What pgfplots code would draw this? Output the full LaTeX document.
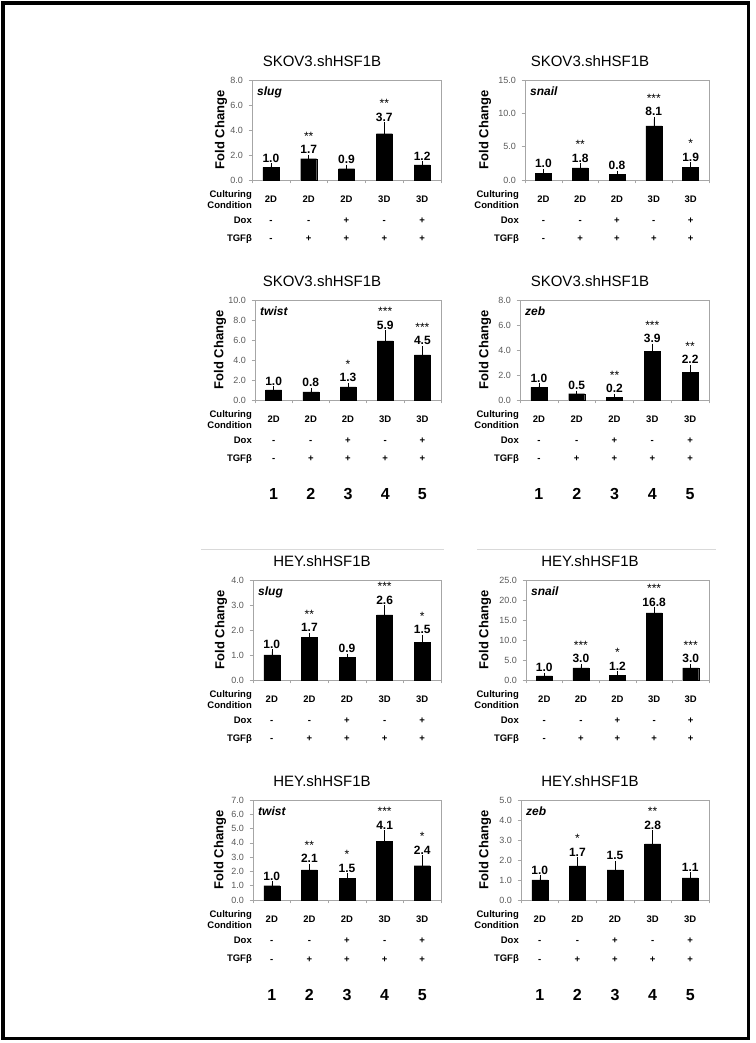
\documentclass[border=0pt]{standalone}
\usepackage{fontspec}
\setmainfont{Liberation Sans}
\usepackage{pgfplots}
\usepackage{pgfplotstable}
\pgfplotsset{compat=1.18}

\definecolor{axgray}{HTML}{A6A6A6}
\definecolor{tickgray}{HTML}{595959}
\definecolor{sepgray}{HTML}{D9D9D9}

% lane, fold change, upper error, significance
\pgfplotstableread{
x y e s
1 1.0 0.15 {}
2 1.7 0.10 **
3 0.9 0.12 {}
4 3.7 0.70 **
5 1.2 0.10 {}
}\skovslug
\pgfplotstableread{
x y e s
1 1.0 0.30 {}
2 1.8 0.30 **
3 0.8 0.20 {}
4 8.1 1.00 ***
5 1.9 0.40 *
}\skovsnail
\pgfplotstableread{
x y e s
1 1.0 0.12 {}
2 0.8 0.15 {}
3 1.3 0.15 *
4 5.9 0.80 ***
5 4.5 0.67 ***
}\skovtwist
\pgfplotstableread{
x y e s
1 1.0 0.12 {}
2 0.5 0.05 {}
3 0.2 0.08 **
4 3.9 0.40 ***
5 2.2 0.40 **
}\skovzeb
\pgfplotstableread{
x y e s
1 1.0 0.13 {}
2 1.7 0.08 **
3 0.9 0.04 {}
4 2.6 0.28 ***
5 1.5 0.20 *
}\heyslug
\pgfplotstableread{
x y e s
1 1.0 0.20 {}
2 3.0 0.40 ***
3 1.2 0.30 *
4 16.8 0.80 ***
5 3.0 0.40 ***
}\heysnail
\pgfplotstableread{
x y e s
1 1.0 0.12 {}
2 2.1 0.26 **
3 1.5 0.19 *
4 4.1 0.60 ***
5 2.4 0.56 *
}\heytwist
\pgfplotstableread{
x y e s
1 1.0 0.12 {}
2 1.7 0.32 *
3 1.5 0.33 {}
4 2.8 0.55 **
5 1.1 0.17 {}
}\heyzeb

\pgfplotsset{
  fc/.style={
    anchor=south west, scale only axis, height=100pt,
    xmin=0.5, xmax=5.5, ymin=0, clip=false,
    axis line style={axgray, line width=0.6pt},
    xtick={0.5,1.5,...,5.5}, xticklabels={},
    xtick pos=bottom, ytick pos=left,
    tick align=outside, major tick length=3.5pt,
    tick style={axgray, line width=0.6pt},
    scaled y ticks=false,
    yticklabel style={font=\fontsize{9}{9}\selectfont, text=tickgray, xshift=-2pt,
      /pgf/number format/fixed, /pgf/number format/fixed zerofill,
      /pgf/number format/precision=1, /pgf/number format/assume math mode=true},
  },
  bars/.style={ybar, bar width=16pt, fill=black, draw=black,
    error bars/.cd, y dir=plus, y explicit,
    error bar style={black, line width=0.6pt},
    error mark options={black, mark size=2.5pt, line width=0.6pt}},
}
\tikzset{
  cnd/.style={anchor=base, inner sep=0pt, font=\bfseries\fontsize{9.5}{9.5}\selectfont},
  lane/.style={anchor=base, inner sep=0pt, font=\bfseries\fontsize{16}{16}\selectfont},
}

% value and significance labels above the error bars
\newcommand{\vals}[1]{%
  \addplot[only marks, mark=none, nodes near coords, point meta=explicit,
    nodes near coords style={anchor=base, yshift=3.5pt, inner sep=0pt,
      font=\bfseries\fontsize{12}{12}\selectfont,
      /pgf/number format/fixed, /pgf/number format/fixed zerofill,
      /pgf/number format/precision=1, /pgf/number format/assume math mode=true}]
    table[x=x, y expr=\thisrow{y}+\thisrow{e}, meta=y] {#1};
  \addplot[only marks, mark=none, nodes near coords, point meta=explicit symbolic,
    nodes near coords style={anchor=base, yshift=17pt, inner sep=0pt,
      font=\fontsize{12}{12}\selectfont}]
    table[x=x, y expr=\thisrow{y}+\thisrow{e}, meta=s] {#1};
}
\newcommand{\gene}[1]{%
  \node[anchor=north west, inner sep=0pt, xshift=5pt, yshift=-7pt,
    font=\bfseries\itshape\fontsize{12}{12}\selectfont] at (rel axis cs:0,1) {#1};
}
\newcommand{\condrows}{%
  \node[cnd, yshift=-22.7pt] at (axis cs:1,0) {2D};
  \node[cnd, yshift=-22.7pt] at (axis cs:2,0) {2D};
  \node[cnd, yshift=-22.7pt] at (axis cs:3,0) {2D};
  \node[cnd, yshift=-22.7pt] at (axis cs:4,0) {3D};
  \node[cnd, yshift=-22.7pt] at (axis cs:5,0) {3D};
  \node[cnd, yshift=-44pt] at (axis cs:1,0) {-};
  \node[cnd, yshift=-44pt] at (axis cs:2,0) {-};
  \node[cnd, yshift=-44pt] at (axis cs:3,0) {+};
  \node[cnd, yshift=-44pt] at (axis cs:4,0) {-};
  \node[cnd, yshift=-44pt] at (axis cs:5,0) {+};
  \node[cnd, yshift=-62pt] at (axis cs:1,0) {-};
  \node[cnd, yshift=-62pt] at (axis cs:2,0) {+};
  \node[cnd, yshift=-62pt] at (axis cs:3,0) {+};
  \node[cnd, yshift=-62pt] at (axis cs:4,0) {+};
  \node[cnd, yshift=-62pt] at (axis cs:5,0) {+};
}
\newcommand{\lanes}{%
  \node[lane, yshift=-100pt] at (axis cs:1,0) {1};
  \node[lane, yshift=-100pt] at (axis cs:2,0) {2};
  \node[lane, yshift=-100pt] at (axis cs:3,0) {3};
  \node[lane, yshift=-100pt] at (axis cs:4,0) {4};
  \node[lane, yshift=-100pt] at (axis cs:5,0) {5};
}
% row headers, title and y label around a panel
\newcommand{\heads}[2]{%
  \node[cnd, anchor=base east, yshift=-17.4pt] at (#1pt,#2pt) {Culturing};
  \node[cnd, anchor=base east, yshift=-28.7pt] at (#1pt,#2pt) {Condition};
  \node[cnd, anchor=base east, yshift=-44pt] at (#1pt,#2pt) {Dox};
  \node[cnd, anchor=base east, yshift=-62pt] at (#1pt,#2pt) {TGFβ};
}
\newcommand{\ttl}[3]{%
  \node[inner sep=0pt, font=\fontsize{15}{15}\selectfont] at (#1pt,#2pt) {#3};
}
\newcommand{\fold}[2]{%
  \node[rotate=90, inner sep=0pt, font=\bfseries\fontsize{13}{13}\selectfont] at (#1pt,#2pt) {Fold Change};
}

\begin{document}
\begin{tikzpicture}
\useasboundingbox (0,0) rectangle (755pt,1043pt);
\draw[line width=3.5pt] (3pt,4.5pt) rectangle (748.5pt,1040pt);
\draw[sepgray, line width=0.8pt] (201pt,494pt) -- (444pt,494pt);
\draw[sepgray, line width=0.8pt] (477pt,494pt) -- (716pt,494pt);

% SKOV3 slug
\begin{axis}[fc, at={(252pt,863pt)}, width=189pt, ymax=8, ytick={0,2,...,8}]
  \addplot[bars] table[x=x, y=y, y error=e] {\skovslug};
  \vals{\skovslug}
  \gene{slug}
  \condrows
\end{axis}
% SKOV3 snail
\begin{axis}[fc, at={(525pt,863pt)}, width=184pt, ymax=15, ytick={0,5,10,15}]
  \addplot[bars] table[x=x, y=y, y error=e] {\skovsnail};
  \vals{\skovsnail}
  \gene{snail}
  \condrows
\end{axis}
% SKOV3 twist
\begin{axis}[fc, at={(255pt,643pt)}, width=186pt, ymax=10, ytick={0,2,...,10}]
  \addplot[bars] table[x=x, y=y, y error=e] {\skovtwist};
  \vals{\skovtwist}
  \gene{twist}
  \condrows
  \lanes
\end{axis}
% SKOV3 zeb
\begin{axis}[fc, at={(520pt,643pt)}, width=189pt, ymax=8, ytick={0,2,...,8}]
  \addplot[bars] table[x=x, y=y, y error=e] {\skovzeb};
  \vals{\skovzeb}
  \gene{zeb}
  \condrows
  \lanes
\end{axis}
% HEY slug
\begin{axis}[fc, at={(253pt,363pt)}, width=188pt, ymax=4, ytick={0,1,...,4}]
  \addplot[bars] table[x=x, y=y, y error=e] {\heyslug};
  \vals{\heyslug}
  \gene{slug}
  \condrows
\end{axis}
% HEY snail
\begin{axis}[fc, at={(526pt,363pt)}, width=183pt, ymax=25, ytick={0,5,...,25}]
  \addplot[bars] table[x=x, y=y, y error=e] {\heysnail};
  \vals{\heysnail}
  \gene{snail}
  \condrows
\end{axis}
% HEY twist
\begin{axis}[fc, at={(253pt,143pt)}, width=188pt, ymax=7, ytick={0,1,...,7}]
  \addplot[bars] table[x=x, y=y, y error=e] {\heytwist};
  \vals{\heytwist}
  \gene{twist}
  \condrows
  \lanes
\end{axis}
% HEY zeb
\begin{axis}[fc, at={(521pt,143pt)}, width=188pt, ymax=5, ytick={0,1,...,5}]
  \addplot[bars] table[x=x, y=y, y error=e] {\heyzeb};
  \vals{\heyzeb}
  \gene{zeb}
  \condrows
  \lanes
\end{axis}

\heads{252}{863}\heads{519}{863}
\heads{252}{643}\heads{519}{643}
\heads{252}{363}\heads{519}{363}
\heads{252}{143}\heads{519}{143}

\ttl{322}{982}{SKOV3.shHSF1B}\ttl{590}{982}{SKOV3.shHSF1B}
\ttl{322}{762}{SKOV3.shHSF1B}\ttl{590}{762}{SKOV3.shHSF1B}
\ttl{322}{482}{HEY.shHSF1B}\ttl{590}{482}{HEY.shHSF1B}
\ttl{322}{262}{HEY.shHSF1B}\ttl{590}{262}{HEY.shHSF1B}

\fold{221}{913}\fold{485}{913}
\fold{220}{693}\fold{485}{693}
\fold{221}{413}\fold{485}{413}
\fold{220}{193}\fold{485}{193}
\end{tikzpicture}
\end{document}
